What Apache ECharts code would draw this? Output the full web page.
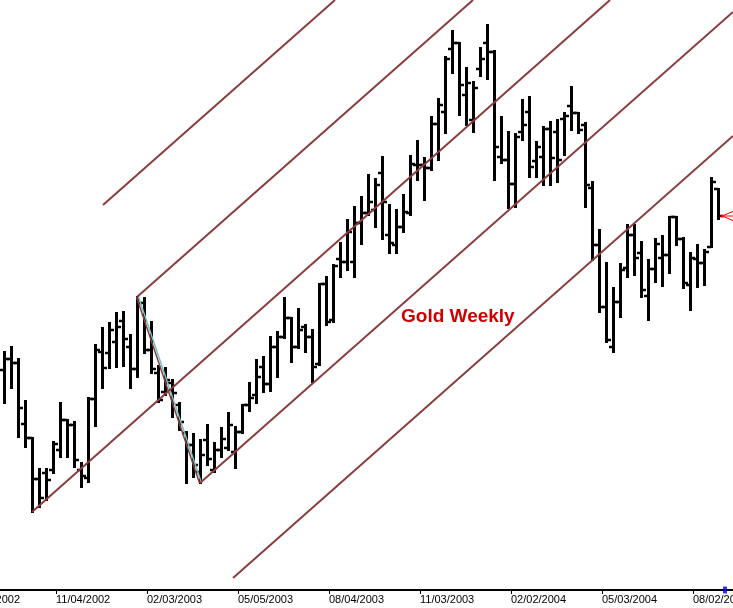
<!DOCTYPE html>
<html><head><meta charset="utf-8">
<script src="https://cdn.jsdelivr.net/npm/echarts@6/dist/echarts.min.js"></script>
<style>html,body{margin:0;padding:0;background:#fff}#c{width:733px;height:608px}</style>
</head><body><div id="c"></div>
<script>
// ---- data (weekly bars, Friday dates starting 2002-09-13) ----
const firstBarDate = '2002-09-13';
const axisOrigin = '2002-08-05';           // first (off-screen) axis tick, Monday
const tickLabels = ['08/05/2002','11/04/2002','02/03/2003','05/05/2003','08/04/2003','11/03/2003','02/02/2004','05/03/2004','08/02/2004','11/01/2004'];

const opens = [376,378.2,377.4,365.2,362.4,354.2,355.4,356,360,366,365,356,354.4,370.2,379.6,379.4,381.6,385.8,380.6,376.2,
389.4,380,375.4,371.6,373.4,369,363.4,361,355.6,362,356,360,360.4,359.6,363.6,369,371,376.6,373.2,380.6,
382.6,386.4,380.6,384.6,382.6,377.2,393.2,386,398.2,397.6,397.6,405.4,407.4,408,415.4,403,401,404.6,407.4,417,
417,416.4,425.2,427.6,440.2,441.4,431,426,436.2,441.4,439.6,418.6,418,413.2,423.6,427.6,417.8,418.6,424.2,423.6,
426.2,428.8,427.4,425,412.4,401,388.6,380.6,389.6,396.4,403,399.4,390.8,396.2,398.4,399,406.6,402.2,393,398.2,
397.4,400.6,412.2];
const highs = [379.6,380.6,378.2,369.8,362.4,356.2,356.2,361.6,369.4,366,365.6,357.4,370.4,381,384.4,385.4,387.4,387.6,383,390.6,
390.4,385.6,376.8,376.4,374,369.4,363.6,363.2,362,365,361.4,364.4,367.4,364.6,369,373.4,378,378.6,382.6,383.6,
390.4,386.4,388.2,385,384,393.2,394.6,397,401.4,406,408.6,410.6,415,414.2,418.6,409,408,411,418.8,421.8,
418.4,426.6,430.2,438.6,443.8,441.4,436.4,433.6,440.4,445,439.8,426.6,423.6,423.2,430,430.6,421.6,424.6,425.6,426,
427.4,432.6,427.4,425.4,413.6,404,397.4,392.4,397.2,405,405,401.6,398,402.2,402.8,406.6,406.6,402.4,399.4,401,
400,414.4,412.2];
const lows = [369.4,372.4,362.6,360.6,347.6,348.6,350,355.4,358.6,358.6,356.6,352.6,353.6,364.8,372.4,376.4,376.6,376.8,372.4,374.6,
379.4,375.4,369.6,371,366.6,364,353.4,354.6,353.4,357,355.6,358.6,360,356.4,363.4,367.8,369.4,371.6,371.8,374.6,
382.4,377.6,380.4,379.6,373.6,377,385,385.6,394.6,396,394.6,401.2,407,404.6,402.2,399.4,399.4,403.6,407,414,
410,416,418,423.4,435.4,427,425,423.6,434.8,434.2,414,417.4,408.4,408.6,422,414.6,414.6,413,413,413.6,
419,424,423.4,408.6,398,387.6,381.6,379.6,386.6,394.6,395,390.6,386,393.6,392.8,395.4,401,392.4,388,392.6,
393,400.6,406.2];
const closes = [378.2,377.4,368.4,362.4,354.2,350.4,354,361.2,366,365,358,354.8,370.2,380,376.4,384,384.6,382.2,376.2,389.4,
380,376.2,370,374,371.4,365.6,361,357,359,358.2,360,362.2,365,363.6,369,370.4,374.6,373.2,380.6,382.6,
386.4,380.6,384,382.6,376.6,393.2,385.6,396.8,397.6,403.6,405.4,407.4,409.6,413,409.6,401.4,404.6,407.6,417.2,417,
416.4,425.2,429,438.2,441.4,433,433.4,432.4,438.2,439.6,420.6,418,413.2,422.6,425,416.6,420.6,424.2,418.4,418,
426.8,427.4,424,413,401,388.6,382,389.6,396,403,398.4,392,396.2,401.2,399,406.6,402.2,393.4,398.4,397.4,
399.6,413.6,406.8];

// Andrews pitchfork lines, endpoints as [weeks since axisOrigin, price]
const pfWarnUpper = [[19.714,409.0],[52.857,450.0]];
const pfUpper     = [[24.571,390.6],[72.571,450.0]];
const pfMedian    = [[9.571,347.6],[92.143,450.0]];
const pfLower     = [[33.571,353.4],[109.714,447.6]];
const pfWarnLower = [[38.286,334.4],[109.714,422.8]];
const pfHandle    = [[24.571,390.6],[33.571,353.4]];

// ---- build ----
const DAY = 86400000;
const t0 = Date.parse(axisOrigin + 'T00:00:00Z');
const tb = Date.parse(firstBarDate + 'T00:00:00Z');
const weekOf = i => (tb - t0) / (7 * DAY) + i;
const ohlc = opens.map((o, i) => [weekOf(i), o, highs[i], lows[i], closes[i]]);
const segs = [pfWarnUpper, pfUpper, pfMedian, pfLower, pfWarnLower].map(s => [s[0][0], s[0][1], s[1][0], s[1][1]]);

const chart = echarts.init(document.getElementById('c'), null, {renderer: 'canvas'});
chart.setOption({
  backgroundColor: '#ffffff',
  animation: false,
  title: {
    text: 'Gold Weekly', left: 401, top: 307, padding: 0,
    textStyle: {color: '#cc0000', fontSize: 19, fontWeight: 'bold', fontFamily: 'Liberation Sans'}
  },
  grid: {left: -35, right: -51, top: 0, bottom: 18, containLabel: false, outerBoundsMode: 'none'},
  xAxis: {
    type: 'value', min: 0, max: 117, interval: 13,
    axisLine: {show: true, lineStyle: {color: '#000', width: 2}},
    axisTick: {show: true, length: 4, lineStyle: {color: '#000', width: 1}},
    axisLabel: {
      show: true, color: '#000', fontSize: 11, fontFamily: 'Liberation Sans', align: 'left', margin: 4,
      hideOverlap: false, showMinLabel: true, showMaxLabel: true,
      formatter: v => tickLabels[Math.round(v / 13)] || ''
    },
    splitLine: {show: false}
  },
  yAxis: {type: 'value', min: 332, max: 450, show: false, splitLine: {show: false}},
  series: [
    {
      type: 'custom', name: 'bars', z: 2, clip: false,
      data: ohlc,
      encode: {x: 0, y: [1, 2, 3, 4]},
      renderItem: (params, api) => {
        const u = api.value(0);
        const pO = api.coord([u, api.value(1)]);
        const pH = api.coord([u, api.value(2)]);
        const pL = api.coord([u, api.value(3)]);
        const pC = api.coord([u, api.value(4)]);
        const x = Math.round(pH[0]) + 0.5;
        const st = {stroke: '#000', lineWidth: 3};
        const tk = {stroke: '#000', lineWidth: 2.5};
        return {type: 'group', children: [
          {type: 'line', shape: {x1: x, y1: pH[1] - 1, x2: x, y2: pL[1] + 1}, style: st},
          {type: 'line', shape: {x1: x - 4.5, y1: pO[1], x2: x, y2: pO[1]}, style: tk},
          {type: 'line', shape: {x1: x, y1: pC[1], x2: x + 4.5, y2: pC[1]}, style: tk}
        ]};
      }
    },
    {
      type: 'custom', name: 'handle', z: 3, clip: false,
      data: [[pfHandle[0][0], pfHandle[0][1], pfHandle[1][0], pfHandle[1][1]]],
      renderItem: (params, api) => {
        const a = api.coord([api.value(0), api.value(1)]);
        const b = api.coord([api.value(2), api.value(3)]);
        return {type: 'group', children: [
          {type: 'line', shape: {x1: a[0] + 1.5, y1: a[1], x2: b[0] + 1.5, y2: b[1]}, style: {stroke: '#74c3c3', lineWidth: 1.5}},
          {type: 'line', shape: {x1: a[0] - 0.5, y1: a[1], x2: b[0] - 0.5, y2: b[1]}, style: {stroke: '#8b3c3c', lineWidth: 1.5}}
        ]};
      }
    },
    {
      type: 'custom', name: 'pitchfork', z: 4, clip: false,
      data: segs,
      renderItem: (params, api) => {
        const a = api.coord([api.value(0), api.value(1)]);
        const b = api.coord([api.value(2), api.value(3)]);
        return {type: 'line', shape: {x1: a[0], y1: a[1], x2: b[0], y2: b[1]},
          style: {stroke: '#8b3c3c', lineWidth: 2}};
      }
    },
    {
      type: 'custom', name: 'lastMarker', z: 5, clip: false,
      data: [[weekOf(opens.length - 1), closes[closes.length - 1]]],
      renderItem: (params, api) => {
        const p = api.coord([api.value(0), api.value(1)]);
        const x = p[0] + 4, y = p[1];
        const st = {stroke: '#ff0000', lineWidth: 1};
        return {type: 'group', children: [
          {type: 'line', shape: {x1: x, y1: y, x2: x + 12, y2: y - 5}, style: st},
          {type: 'line', shape: {x1: x, y1: y, x2: x + 12, y2: y}, style: st},
          {type: 'line', shape: {x1: x, y1: y, x2: x + 12, y2: y + 5}, style: st},
          {type: 'circle', shape: {cx: x, cy: y, r: 1.5}, style: {fill: '#ff0000'}}
        ]};
      }
    },
    {
      type: 'scatter', name: 'cursor', z: 6, silent: true,
      data: [[weekOf(opens.length), 332]],
      symbol: 'rect', symbolSize: [4, 7],
      itemStyle: {color: '#0000ff'}
    }
  ]
});
</script>
</body></html>
